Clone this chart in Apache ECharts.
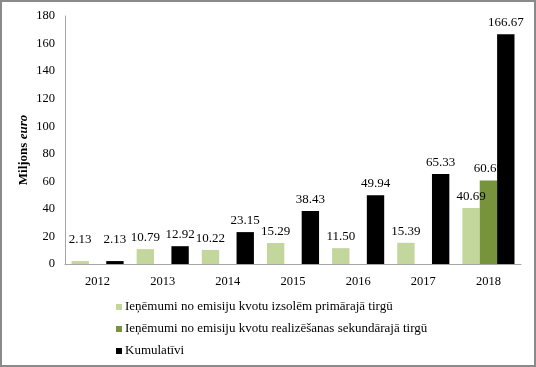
<!DOCTYPE html>
<html><head><meta charset="utf-8">
<script src="https://cdn.jsdelivr.net/npm/echarts@6/dist/echarts.min.js"></script>
<style>html,body{margin:0;padding:0;background:#fff}#c{width:536px;height:367px}</style>
</head><body><div id="c"></div>
<script>
var categories = ['2012','2013','2014','2015','2016','2017','2018'];
var primary = [2.13, 10.79, 10.22, 15.29, 11.50, 15.39, 40.69];
var secondary = [null, null, null, null, null, null, 60.69];
var cumulative = [2.13, 12.92, 23.15, 38.43, 49.94, 65.33, 166.67];
var seriesNames = ['Ieņēmumi no emisiju kvotu izsolēm primārajā tirgū','Ieņēmumi no emisiju kvotu realizēšanas sekundārajā tirgū','Kumulatīvi'];
var yTicks = {min:0, max:180, interval:20};

var font = '"Liberation Serif","Times New Roman",serif';
function mk(arr){
  return arr.map(function(v,i){
    if (v === null) return null;
    if (i === 0) return {value:v, label:{distance:15}};
    return v;
  });
}
var chart = echarts.init(document.getElementById('c'));
var lbl = {show:true, position:'top', distance:5, fontFamily:font, fontSize:13, color:'#000',
  formatter:function(p){return p.value.toFixed(2);}};
chart.setOption({
  animation:false,
  graphic:[{type:'rect', shape:{x:1,y:1,width:534,height:365}, style:{fill:'none',stroke:'#8a8a8a',lineWidth:2}, silent:true}],
  grid:{left:65, right:15, top:16, bottom:103},
  legend:{orient:'vertical', left:111, top:295, itemWidth:6, itemHeight:6, itemGap:8, icon:'rect',
    textStyle:{fontFamily:font, fontSize:13, color:'#000', lineHeight:14, padding:[0,0,0,-2]},
    data:seriesNames},
  xAxis:{type:'category', data:categories,
    axisLine:{lineStyle:{color:'#a6a6a6'}}, axisTick:{show:false},
    axisLabel:{fontFamily:font, fontSize:12.5, color:'#000', margin:11}},
  yAxis:{type:'value', min:yTicks.min, max:yTicks.max, interval:yTicks.interval,
    name:'{b|Miljons} {bi|euro}', nameLocation:'middle', nameGap:35, nameRotate:90, nameMoveOverlap:false,
    nameTextStyle:{padding:[0,20,0,0], rich:{b:{fontFamily:font,fontSize:13,fontWeight:'bold',color:'#000'},bi:{fontFamily:font,fontSize:13,fontWeight:'bold',fontStyle:'italic',color:'#000'}}},
    axisLine:{show:true, lineStyle:{color:'#a6a6a6'}}, axisTick:{show:false}, splitLine:{show:false},
    axisLabel:{fontFamily:font, fontSize:12.5, color:'#000', margin:10}},
  series:[
    {name:seriesNames[0], type:'bar', data:mk(primary), barGap:'0%', barCategoryGap:'20%', itemStyle:{color:'#C3D69B'}, label:lbl, z:2},
    {name:seriesNames[1], type:'bar', data:mk(secondary), itemStyle:{color:'#77933C'}, label:lbl, z:2},
    {name:seriesNames[2], type:'bar', data:mk(cumulative), itemStyle:{color:'#000000'}, label:lbl, z:3}
  ]
});
</script></body></html>
